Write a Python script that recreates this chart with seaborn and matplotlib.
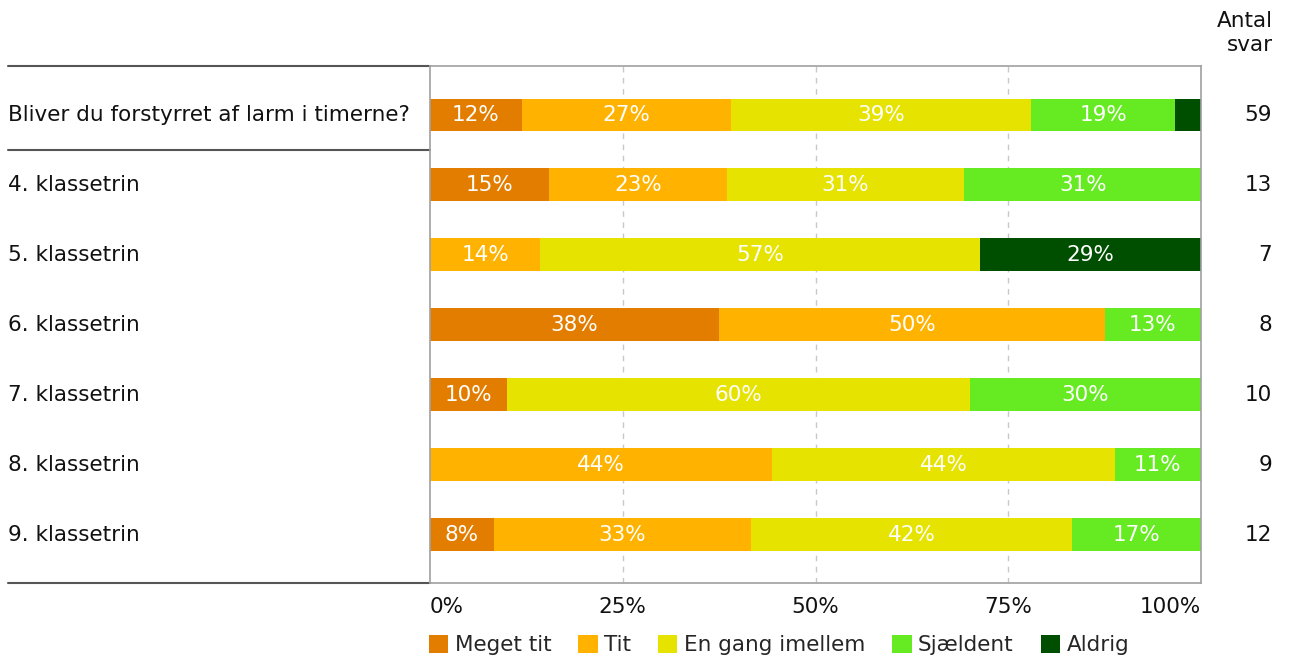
import matplotlib
matplotlib.use("Agg")
import matplotlib.pyplot as plt
import matplotlib.transforms as mtransforms
from matplotlib.patches import Patch
import seaborn as sns
import pandas as pd

# data (percent of answers per row)
rows = ["Bliver du forstyrret af larm i timerne?", "4. klassetrin", "5. klassetrin",
        "6. klassetrin", "7. klassetrin", "8. klassetrin", "9. klassetrin"]
categories = ["Meget tit", "Tit", "En gang imellem", "Sjældent", "Aldrig"]
meget_tit = [11.9, 15.4, 0.0, 37.5, 10.0, 0.0, 8.3]
tit = [27.1, 23.1, 14.3, 50.0, 0.0, 44.4, 33.3]
en_gang = [39.0, 30.8, 57.1, 0.0, 60.0, 44.4, 41.7]
sjaeldent = [18.6, 30.7, 0.0, 12.5, 30.0, 11.2, 16.7]
aldrig = [3.4, 0.0, 28.6, 0.0, 0.0, 0.0, 0.0]
antal_svar = [59, 13, 7, 8, 10, 9, 12]
colors = ["#E37D00", "#FFB300", "#E6E300", "#66EB22", "#004F00"]

series = [meget_tit, tit, en_gang, sjaeldent, aldrig]
records = []
for i, row in enumerate(rows):
    cum = 0
    for cat, vals in zip(categories, series):
        start = cum
        cum += vals[i]
        records.append({"row": row, "cat": cat, "val": vals[i], "start": start, "cum": cum})
df = pd.DataFrame(records)

sns.set_theme(style="white")
plt.rcParams["font.family"] = ["DejaVu Sans"]
FS = 15.5

fig = plt.figure(figsize=(12.89, 6.62), dpi=100)
W, H = 1289, 662
ax = fig.add_axes([430 / W, 1 - 583 / H, (1201 - 430) / W, (583 - 66) / H])

# stacked bars: draw cumulative totals from the last category backwards
for cat, col in reversed(list(zip(categories, colors))):
    sub = df[df["cat"] == cat]
    sns.barplot(data=sub, x="cum", y="row", order=rows, color=col, width=0.47,
                orient="h", ax=ax, saturation=1, edgecolor="none", linewidth=0)

ax.set_xlim(0, 100)
ax.set_ylim(6.69, -0.7)
ax.set_xlabel("")
ax.set_ylabel("")
ax.set_xticks([])
ax.set_yticks([])
for x in [25, 50, 75]:
    ax.axvline(x, color="#C8C8C8", lw=1, ls=(0, (4, 4)), zorder=0)
for s in ax.spines.values():
    s.set_color("#A0A0A0")
    s.set_linewidth(1.2)

# labels inside segments
for _, r in df.iterrows():
    if r["val"] >= 5:
        ax.text(r["start"] + r["val"] / 2, rows.index(r["row"]), f"{int(r['val'] + 0.5)}%",
                color="white", ha="center", va="center", fontsize=FS)

# row labels and left-side rules
blend = mtransforms.blended_transform_factory(ax.transAxes, ax.transData)
x_left = (8 - 430) / (1201 - 430)
for i, row in enumerate(rows):
    ax.text(x_left, i, row, transform=blend, ha="left", va="center", fontsize=FS, color="#111111")
for y in [-0.7, 0.5, 6.69]:
    ax.plot([x_left, 0], [y, y], transform=blend, color="#555555", lw=1.5, clip_on=False)

# antal svar column
x_num = (1272 - 430) / (1201 - 430)
for i, n in enumerate(antal_svar):
    ax.text(x_num, i, str(n), transform=blend, ha="right", va="center", fontsize=FS, color="#111111")
fig.text(1273 / W, 1 - 33 / H, "Antal\nsvar", ha="right", va="center", fontsize=FS,
         multialignment="right", color="#111111", linespacing=1.25)

# x tick labels
blend_x = mtransforms.blended_transform_factory(ax.transData, ax.transAxes)
ty = -(607 - 583) / 517
for v, lab in zip([0, 25, 50, 75, 100], ["0%", "25%", "50%", "75%", "100%"]):
    ha = "left" if v == 0 else ("right" if v == 100 else "center")
    ax.text(v, ty, lab, transform=blend_x, ha=ha, va="center", fontsize=FS, color="#111111")

# legend
handles = [Patch(facecolor=c, edgecolor="none", label=l) for l, c in zip(categories, colors)]
fig.legend(handles=handles, loc="center left", bbox_to_anchor=(429 / W, 1 - 645 / H),
           ncol=5, frameon=False, fontsize=FS, handlelength=0.9, handleheight=0.9,
           handletextpad=0.3, columnspacing=1.25, borderpad=0, borderaxespad=0)

fig.savefig("out.png", dpi=100)
